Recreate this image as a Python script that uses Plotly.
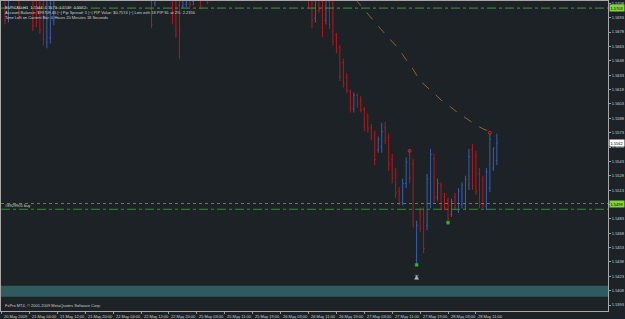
import plotly.graph_objects as go

# ---------------- data (EURCAD, H1) ----------------
bar_index = [1, 2, 5, 9, 10, 11, 12, 13, 14, 15,
             43, 44, 49, 50, 51, 52, 53, 54, 55, 57, 59,
             88, 89, 90, 91, 92, 93, 94, 95, 96, 97, 98, 99, 100, 101, 102, 103, 104,
             105, 106, 107, 108, 109, 110, 111, 112, 113, 114, 115, 116, 117, 118, 119,
             120, 121, 122, 123, 124, 125, 126, 127, 128, 129, 130, 131, 132, 133, 134,
             135, 136, 137, 138, 139, 140, 141, 142]
opens = [1.5718, 1.5692, 1.5714, 1.5712, 1.5711, 1.5709, 1.5706, 1.5667, 1.5672, 1.5690,
         1.5718, 1.5708, 1.5720, 1.5712, 1.5706, 1.5705, 1.5707, 1.5722, 1.5710, 1.5720, 1.5720,
         1.5720, 1.5716, 1.5692, 1.5714, 1.5710, 1.5690, 1.5710, 1.5708, 1.5675, 1.5662, 1.5646,
         1.5631, 1.5616, 1.5598, 1.5612, 1.5606, 1.5597,
         1.5590, 1.5578, 1.5572, 1.5555, 1.5558, 1.5578, 1.5568, 1.5545, 1.5530, 1.5512, 1.5500,
         1.5520, 1.5550, 1.5540, 1.5440,
         1.5490, 1.5488, 1.5476, 1.5500, 1.5546, 1.5505, 1.5518, 1.5506, 1.5502, 1.5488, 1.5506,
         1.5492, 1.5498, 1.5496, 1.5518,
         1.5555, 1.5548, 1.5530, 1.5524, 1.5496, 1.5515, 1.5536, 1.5544]
highs = [1.5722, 1.5720, 1.5718, 1.5716, 1.5715, 1.5713, 1.5712, 1.5712, 1.5714, 1.5718,
         1.5722, 1.5722, 1.5725, 1.5718, 1.5712, 1.5722, 1.5724, 1.5726, 1.5726, 1.5724, 1.5724,
         1.5725, 1.5722, 1.5718, 1.5720, 1.5716, 1.5716, 1.5714, 1.5712, 1.5677, 1.5664, 1.5650,
         1.5635, 1.5618, 1.5615, 1.5614, 1.5611, 1.5600,
         1.5593, 1.5582, 1.5575, 1.5569, 1.5583, 1.5584, 1.5572, 1.5551, 1.5536, 1.5516, 1.5525,
         1.5547, 1.5556, 1.5546, 1.5481,
         1.5495, 1.5495, 1.5530, 1.5556, 1.5551, 1.5525, 1.5521, 1.5510, 1.5505, 1.5504, 1.5510,
         1.5515, 1.5521, 1.5528, 1.5556,
         1.5561, 1.5554, 1.5536, 1.5528, 1.5536, 1.5572, 1.5557, 1.5572]
lows = [1.5686, 1.5688, 1.5691, 1.5679, 1.5683, 1.5676, 1.5664, 1.5661, 1.5666, 1.5685,
        1.5682, 1.5705, 1.5686, 1.5672, 1.5650, 1.5703, 1.5704, 1.5704, 1.5706, 1.5702, 1.5707,
        1.5703, 1.5682, 1.5688, 1.5698, 1.5673, 1.5686, 1.5681, 1.5664, 1.5656, 1.5627, 1.5620,
        1.5614, 1.5594, 1.5594, 1.5599, 1.5594, 1.5575,
        1.5573, 1.5565, 1.5539, 1.5552, 1.5552, 1.5561, 1.5533, 1.5520, 1.5505, 1.5497, 1.5497,
        1.5515, 1.5520, 1.5474, 1.5435,
        1.5469, 1.5447, 1.5471, 1.5494, 1.5500, 1.5502, 1.5492, 1.5492, 1.5479, 1.5485, 1.5492,
        1.5489, 1.5494, 1.5492, 1.5513,
        1.5513, 1.5508, 1.5494, 1.5494, 1.5492, 1.5511, 1.5533, 1.5539]
closes = [1.5690, 1.5715, 1.5694, 1.5684, 1.5688, 1.5680, 1.5670, 1.5704, 1.5708, 1.5714,
          1.5686, 1.5718, 1.5690, 1.5676, 1.5680, 1.5716, 1.5719, 1.5707, 1.5722, 1.5705, 1.5709,
          1.5706, 1.5690, 1.5712, 1.5701, 1.5678, 1.5711, 1.5686, 1.5668, 1.5660, 1.5631, 1.5624,
          1.5617, 1.5598, 1.5612, 1.5603, 1.5597, 1.5579,
          1.5577, 1.5568, 1.5545, 1.5566, 1.5574, 1.5565, 1.5540, 1.5526, 1.5510, 1.5500, 1.5520,
          1.5542, 1.5525, 1.5480, 1.5476,
          1.5474, 1.5452, 1.5524, 1.5550, 1.5506, 1.5520, 1.5497, 1.5495, 1.5483, 1.5501, 1.5495,
          1.5512, 1.5518, 1.5524, 1.5548,
          1.5518, 1.5512, 1.5498, 1.5498, 1.5532, 1.5566, 1.5557, 1.5562]

ma_index = [98, 100, 102, 104, 106, 108, 110, 112, 114, 116, 118, 120, 122, 124, 126,
            128, 130, 132, 134, 136, 138, 140]
ma_values = [1.5727, 1.5717, 1.5710, 1.5701, 1.5693, 1.5684, 1.5676, 1.5668, 1.5660, 1.5649,
             1.5639, 1.5627, 1.5621, 1.5614, 1.5607, 1.5602, 1.5596, 1.5591, 1.5586, 1.5581,
             1.5577, 1.5574]

time_tick_index = [0, 8, 16, 24, 32, 40, 48, 56, 64, 72, 80, 88, 96, 104, 112, 120, 128, 136]
time_tick_labels = ["20 May 2009", "21 May 04:00", "21 May 12:00", "21 May 20:00",
                    "22 May 04:00", "22 May 12:00", "22 May 20:00", "25 May 03:00",
                    "25 May 11:00", "25 May 19:00", "26 May 03:00", "26 May 11:00",
                    "26 May 19:00", "27 May 03:00", "27 May 11:00", "27 May 19:00",
                    "28 May 03:00", "28 May 11:00"]
price_ticks = [1.5393, 1.5408, 1.5423, 1.5438, 1.5453, 1.5468, 1.5483, 1.5498, 1.5513,
               1.5528, 1.5543, 1.5558, 1.5573, 1.5588, 1.5603, 1.5618, 1.5633, 1.5648,
               1.5663, 1.5678, 1.5693, 1.5708]

top_line_price = 1.5703
dotted_line_price = 1.5499
buy_line_price = 1.5493
bid_price = 1.5562
band_low, band_high = 1.54017, 1.54131

green_marks_index = [119, 128]
green_marks_price = [1.5435, 1.5479]
red_marks_index = [117, 140]
red_marks_price = [1.5554, 1.5573]
arrow_index = [119]
arrow_price = [1.5424]

price_min, price_max = 1.53868, 1.57104
x_min, x_max = -0.143, 173.86

BG = "#1c2225"
TXT = "#cfcfcf"
FONT = "Liberation Sans"
FS = 4

fig = go.Figure()

fig.add_shape(type="rect", xref="paper", x0=0, x1=1, yref="y", y0=band_low, y1=band_high,
              fillcolor="#2e5b5e", line_width=0, layer="below")
fig.add_shape(type="line", xref="paper", x0=0, x1=1, yref="y", y0=top_line_price, y1=top_line_price,
              line=dict(color="#3f9a35", width=1, dash="dashdot"))
fig.add_shape(type="line", xref="paper", x0=0, x1=1, yref="y", y0=dotted_line_price, y1=dotted_line_price,
              line=dict(color="#6f7f48", width=1, dash="dot"))
fig.add_shape(type="line", xref="paper", x0=0, x1=1, yref="y", y0=buy_line_price, y1=buy_line_price,
              line=dict(color="#2f8f2f", width=1, dash="dashdot"))

fig.add_trace(go.Ohlc(x=bar_index, open=opens, high=highs, low=lows, close=closes,
                      increasing=dict(line=dict(color="#3a5fae", width=1)),
                      decreasing=dict(line=dict(color="#b8161c", width=1)),
                      tickwidth=0.3, hoverinfo="skip", showlegend=False))

fig.add_trace(go.Scatter(x=ma_index, y=ma_values, mode="lines",
                         line=dict(color="#8d6535", width=1, dash="dash"),
                         hoverinfo="skip", showlegend=False))

fig.add_trace(go.Scatter(x=green_marks_index, y=green_marks_price, mode="markers",
                         marker=dict(symbol="square", size=3, color="#2fbf3f",
                                     line=dict(color="#1f8f2f", width=0.5)),
                         hoverinfo="skip", showlegend=False))
fig.add_trace(go.Scatter(x=red_marks_index, y=red_marks_price, mode="markers",
                         marker=dict(symbol="circle-open", size=3, color="#c82828",
                                     line=dict(width=1)),
                         hoverinfo="skip", showlegend=False))
fig.add_trace(go.Scatter(x=arrow_index, y=arrow_price, mode="markers",
                         marker=dict(symbol="arrow-bar-up", size=4, color="#a8b4bc",
                                     line=dict(color="#a8b4bc", width=0.5)),
                         hoverinfo="skip", showlegend=False))

annotations = []
for xi, lab in zip(time_tick_index, time_tick_labels):
    annotations.append(dict(x=xi, xref="x", y=0, yref="paper", text=lab, showarrow=False,
                            xanchor="left", yanchor="top", xshift=0.5, yshift=-1,
                            font=dict(size=FS, color=TXT, family=FONT)))

header_lines = [
    "EURCAD,H1  1.5544  1.5573  1.5539  1.5562",
    "Account Balance: $99709.46 |~| Pip Spread: 5 |~| PIP Value: $0.7574 |~| Lots with 18 PIP SL at 2%: 2.2356",
    "Time Left on Current Bar: 0 Hours 20 Minutes 18 Seconds",
]
for k, line in enumerate(header_lines):
    annotations.append(dict(x=0, xref="paper", y=1, yref="paper", text=line, showarrow=False,
                            xanchor="left", yanchor="top", xshift=2, yshift=-1.5 - 5.2 * k,
                            font=dict(size=FS, color=TXT, family=FONT)))

annotations.append(dict(x=0, xref="paper", y=buy_line_price, yref="y", text="#8929905 buy",
                        showarrow=False, xanchor="left", yanchor="bottom", xshift=2, yshift=-1,
                        font=dict(size=FS, color=TXT, family=FONT)))
annotations.append(dict(x=0, xref="paper", y=0, yref="paper",
                        text="FxPro MT4, \u00a9 2001-2009 MetaQuotes Software Corp.",
                        showarrow=False, xanchor="left", yanchor="bottom", xshift=2, yshift=1.5,
                        font=dict(size=FS, color=TXT, family=FONT)))

for price, bg in [(top_line_price, "#82d43c"), (dotted_line_price, "#82d43c"), (bid_price, "#ffffff")]:
    annotations.append(dict(x=1, xref="paper", y=price, yref="y", text=f"{price:.4f}",
                            showarrow=False, xanchor="left", yanchor="middle", xshift=1,
                            bgcolor=bg, borderpad=0.5,
                            font=dict(size=FS, color="#000000", family=FONT)))

fig.update_layout(
    width=625, height=319,
    margin=dict(l=0, r=16, t=0, b=8, pad=0),
    paper_bgcolor=BG, plot_bgcolor=BG,
    showlegend=False,
    annotations=annotations,
    xaxis=dict(range=[x_min, x_max], showgrid=False, zeroline=False,
               rangeslider=dict(visible=False),
               tickmode="array", tickvals=time_tick_index, showticklabels=False,
               ticks="outside", ticklen=2, tickcolor="#9a9a9a",
               showline=True, linecolor="#a8a8a8", linewidth=1, mirror=True),
    yaxis=dict(range=[price_min, price_max], side="right", showgrid=False, zeroline=False,
               tickmode="array", tickvals=price_ticks,
               ticktext=[f"{v:.4f}" for v in price_ticks],
               ticks="outside", ticklen=2, tickcolor="#9a9a9a",
               tickfont=dict(size=FS, color=TXT, family=FONT),
               showline=True, linecolor="#a8a8a8", linewidth=1, mirror=True),
)

fig.write_html("out.html")
